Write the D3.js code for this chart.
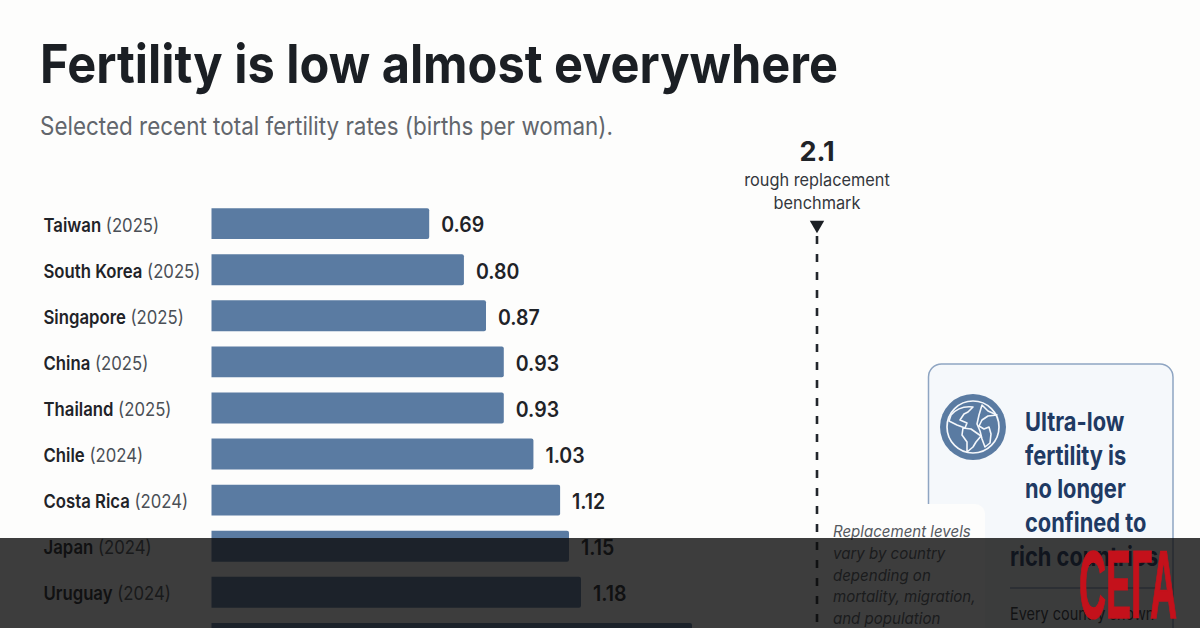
<!DOCTYPE html>
<html>
<head>
<meta charset="utf-8">
<script src="https://cdn.jsdelivr.net/npm/d3@7"></script>
<style>
  html, body { margin: 0; padding: 0; background: #fdfdfc; overflow: hidden; }
  svg { display: block; }
  text { font-family: "Inter", "Noto Sans", sans-serif; }
</style>
</head>
<body>
<div class="chart"></div>
<script>
  // the last bar runs off the bottom of the picture: its label can't be read, its value is an estimate
  const countries = ["Taiwan", "South Korea", "Singapore", "China", "Thailand", "Chile", "Costa Rica", "Japan", "Uruguay", ""];
  const years = ["2025", "2025", "2025", "2025", "2025", "2024", "2024", "2024", "2024", ""];
  const rates = [0.69, 0.80, 0.87, 0.93, 0.93, 1.03, 1.12, 1.15, 1.18, 1.53];
  const benchmark = 2.1;
  const benchmarkLabel = ["rough replacement", "benchmark"];
  const noteLines = ["Replacement levels", "vary by country", "depending on", "mortality, migration,", "and population"];
  const cardLines = ["Ultra-low", "fertility is", "no longer", "confined to"];

  const width = 1200;
  const height = 628;

  const data = countries.map((c, i) => ({ name: c, year: years[i], rate: rates[i] }));

  const svg = d3.select(".chart")
    .append("svg")
    .attr("width", width)
    .attr("height", height);

  // narrows text to a share of its natural width, the picture's type is condensed
  const squeeze = (sel, k) => sel
    .attr("lengthAdjust", "spacingAndGlyphs")
    .attr("textLength", function () { return this.getComputedTextLength() * k; });

  // the picture doesn't keep one scale out to the benchmark, hence the extra stops
  const x = d3.scaleLinear()
    .domain([0, 0.87, 1.15, 1.18, 1.53, benchmark])
    .range([211.5, 486, 569, 581, 692, 817]);

  const y = d3.scaleBand()
    .domain(countries)
    .range([193, 669])
    .padding(0.33);

  svg.append("text")
    .attr("x", 40)
    .attr("y", 83)
    .attr("font-size", 54)
    .attr("font-weight", 700)
    .attr("fill", "#1b1f24")
    .attr("textLength", 798)
    .attr("lengthAdjust", "spacingAndGlyphs")
    .text("Fertility is low almost everywhere");

  svg.append("text")
    .attr("x", 40)
    .attr("y", 135)
    .attr("font-size", 25)
    .attr("fill", "#62666c")
    .attr("textLength", 573)
    .attr("lengthAdjust", "spacingAndGlyphs")
    .text("Selected recent total fertility rates (births per woman).");

  // bars
  svg.selectAll(".bar")
    .data(data)
    .enter()
    .append("path")
    .attr("class", "bar")
    .attr("fill", "#5a7ba2")
    .attr("d", d => {
      const x1 = x(d.rate), y0 = y(d.name), h = y.bandwidth();
      return `M${x(0)},${y0}H${x1 - 2}Q${x1},${y0} ${x1},${y0 + 2}V${y0 + h - 2}Q${x1},${y0 + h} ${x1 - 2},${y0 + h}H${x(0)}Z`;
    });

  const labels = svg.selectAll(".category-label")
    .data(data.filter(d => d.name))
    .enter()
    .append("text")
    .attr("class", "category-label")
    .attr("x", 43.5)
    .attr("y", d => y(d.name) + y.bandwidth() / 2 + 1.5)
    .attr("dy", "0.35em")
    .attr("font-size", 19)
    .attr("fill", "#1f2328");

  labels.append("tspan")
    .attr("font-weight", 600)
    .text(d => d.name);
  labels.append("tspan")
    .attr("fill", "#4a4f56")
    .text(d => " (" + d.year + ")");

  squeeze(labels, 0.88);

  svg.selectAll(".value-label")
    .data(data.filter(d => d.name))
    .enter()
    .append("text")
    .attr("class", "value-label")
    .attr("x", d => x(d.rate) + 12)
    .attr("y", d => y(d.name) + y.bandwidth() / 2 + 1.5)
    .attr("dy", "0.35em")
    .attr("font-size", 21)
    .attr("font-weight", 600)
    .attr("fill", "#1f2328")
    .text(d => d.rate.toFixed(2))
    .call(squeeze, 0.93);

  // replacement benchmark
  svg.append("line")
    .attr("x1", x(benchmark))
    .attr("x2", x(benchmark))
    .attr("y1", 236)
    .attr("y2", height)
    .attr("stroke", "#22262b")
    .attr("stroke-width", 2.6)
    .attr("stroke-dasharray", "8 10");

  svg.append("path")
    .attr("d", d3.symbol(d3.symbolTriangle, 90))
    .attr("transform", `translate(${x(benchmark)},225) rotate(180)`)
    .attr("fill", "#1b1f24");

  svg.append("text")
    .attr("x", x(benchmark))
    .attr("y", 161)
    .attr("text-anchor", "middle")
    .attr("font-size", 27)
    .attr("font-weight", 700)
    .attr("fill", "#1f2328")
    .text(benchmark);

  svg.selectAll(".benchmark-label")
    .data(benchmarkLabel)
    .enter()
    .append("text")
    .attr("class", "benchmark-label")
    .attr("x", x(benchmark))
    .attr("y", (d, i) => 186 + i * 23)
    .attr("text-anchor", "middle")
    .attr("font-size", 17)
    .attr("fill", "#33373c")
    .text(d => d)
    .call(squeeze, 0.96);

  // side card
  svg.append("rect")
    .attr("x", 928.5)
    .attr("y", 364)
    .attr("width", 244.5)
    .attr("height", 320)
    .attr("rx", 13)
    .attr("fill", "#f5f8fb")
    .attr("stroke", "#8fa5c2")
    .attr("stroke-width", 1.5);

  const globe = svg.append("g").attr("transform", "translate(973,427)");
  globe.append("circle").attr("r", 33).attr("fill", "#5a7ba2");
  globe.append("circle").attr("r", 26)
    .attr("fill", "none").attr("stroke", "#f4f7fb").attr("stroke-width", 1.7);
  globe.selectAll(".land")
    .data([
      "M-22,-12 C-16,-19 -8,-21 0,-20 L-5,-15 L-9,-13 L-13,-7 L-6,-4 L-8,1 L-16,-2 L-24,-6 Z",
      "M-10,1 L-2,2 L8,9 L3,15 L0,20 L-6,25 L-6,15 L-11,8 Z",
      "M9,-22 L15,-16 L24,-12 L15,-11 L9,-7 L6,-1 L11,2 L16,0 L18,7 L17,16 L12,20 L9,12 L7,4 L4,-3 L6,-12 Z"
    ])
    .enter()
    .append("path")
    .attr("class", "land")
    .attr("d", d => d)
    .attr("fill", "none")
    .attr("stroke", "#f4f7fb")
    .attr("stroke-width", 1.6)
    .attr("stroke-linejoin", "round");

  svg.selectAll(".card-line")
    .data(cardLines)
    .enter()
    .append("text")
    .attr("class", "card-line")
    .attr("x", 1025)
    .attr("y", (d, i) => 431 + i * 33.7)
    .attr("font-size", 26)
    .attr("font-weight", 700)
    .attr("fill", "#1f3a63")
    .text(d => d)
    .call(squeeze, 0.84);

  svg.append("text")
    .attr("x", 1010)
    .attr("y", 566)
    .attr("font-size", 26)
    .attr("font-weight", 700)
    .attr("fill", "#1f3a63")
    .text("rich countries")
    .call(squeeze, 0.84);

  svg.append("line")
    .attr("x1", 1010)
    .attr("x2", 1160)
    .attr("y1", 588)
    .attr("y2", 588)
    .attr("stroke", "#8fa5c2")
    .attr("stroke-width", 1.5);

  svg.append("text")
    .attr("x", 1010)
    .attr("y", 620)
    .attr("font-size", 17)
    .attr("fill", "#2b2f35")
    .text("Every country shown")
    .call(squeeze, 0.85);

  // note sits on top of the card
  svg.append("rect")
    .attr("x", 822)
    .attr("y", 504)
    .attr("width", 163)
    .attr("height", 160)
    .attr("rx", 10)
    .attr("fill", "#fdfdfc");

  svg.selectAll(".note-line")
    .data(noteLines)
    .enter()
    .append("text")
    .attr("class", "note-line")
    .attr("x", 833)
    .attr("y", (d, i) => 537 + i * 21.8)
    .attr("font-size", 16)
    .attr("font-style", "italic")
    .attr("fill", "#55595f")
    .text(d => d)
    .call(squeeze, 0.94);

  // publisher's band and logo
  svg.append("rect")
    .attr("x", 0)
    .attr("y", 538)
    .attr("width", width)
    .attr("height", height - 538)
    .attr("fill", "#0c0c0c")
    .attr("fill-opacity", 0.8);

  const logo = svg.append("text")
    .style("font-family", "'Liberation Sans'")
    .attr("font-size", 96)
    .attr("font-weight", 700)
    .attr("fill", "#c4111b")
    .attr("stroke", "#c4111b")
    .attr("stroke-width", 1.5)
    .text("СЕГА");

  logo.attr("transform", `translate(1079,618) scale(${98 / logo.node().getComputedTextLength()},1)`);
</script>
</body>
</html>
